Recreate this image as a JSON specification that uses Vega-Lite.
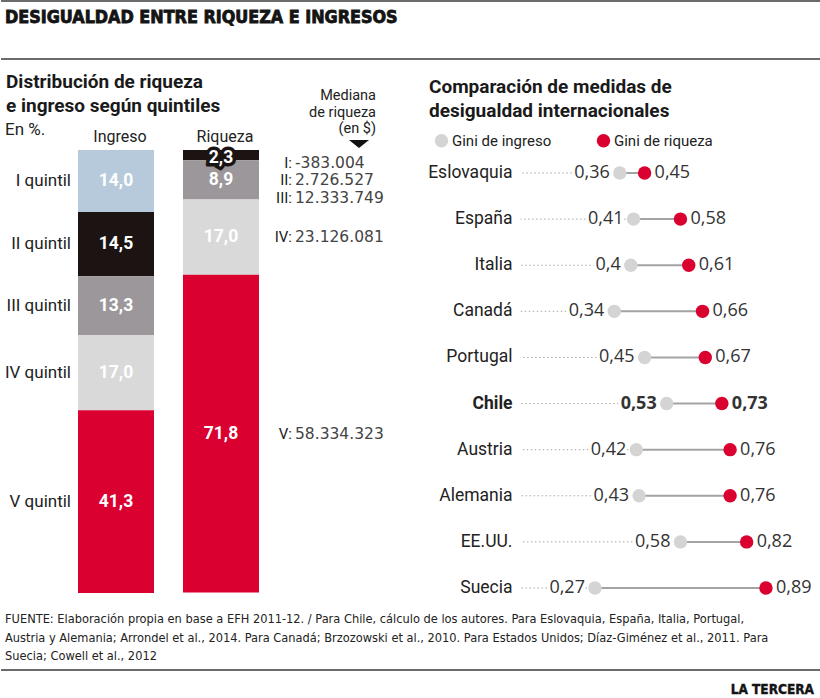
{
  "$schema": "https://vega.github.io/schema/vega-lite/v6.json",
  "width": 820,
  "height": 698,
  "autosize": {"type": "fit", "contains": "padding"},
  "padding": 0,
  "background": "white",
  "config": {
    "view": {"stroke": null},
    "locale": {"number": {"decimal": ",", "thousands": ".", "grouping": [3], "currency": ["$", ""], "minus": "-"}},
    "text": {"font": "Roboto"}
  },
  "datasets": {
    "one": [{}],
    "quint": [
      {"tipo": "Ingreso", "q": "I", "v": 14.0},
      {"tipo": "Ingreso", "q": "II", "v": 14.5},
      {"tipo": "Ingreso", "q": "III", "v": 13.3},
      {"tipo": "Ingreso", "q": "IV", "v": 17.0},
      {"tipo": "Ingreso", "q": "V", "v": 41.3},
      {"tipo": "Riqueza", "q": "I", "v": 0, "med": -383004},
      {"tipo": "Riqueza", "q": "II", "v": 2.3, "med": 2726527},
      {"tipo": "Riqueza", "q": "III", "v": 8.9, "med": 12333749},
      {"tipo": "Riqueza", "q": "IV", "v": 17.0, "med": 23126081},
      {"tipo": "Riqueza", "q": "V", "v": 71.8, "med": 58334323}
    ],
    "gini": [
      {"pais": "Eslovaquia", "ingreso": 0.36, "riqueza": 0.45},
      {"pais": "España", "ingreso": 0.41, "riqueza": 0.58},
      {"pais": "Italia", "ingreso": 0.40, "riqueza": 0.61},
      {"pais": "Canadá", "ingreso": 0.34, "riqueza": 0.66},
      {"pais": "Portugal", "ingreso": 0.45, "riqueza": 0.67},
      {"pais": "Chile", "ingreso": 0.53, "riqueza": 0.73},
      {"pais": "Austria", "ingreso": 0.42, "riqueza": 0.76},
      {"pais": "Alemania", "ingreso": 0.43, "riqueza": 0.76},
      {"pais": "EE.UU.", "ingreso": 0.58, "riqueza": 0.82},
      {"pais": "Suecia", "ingreso": 0.27, "riqueza": 0.89}
    ]
  },
  "layer": [
    {
      "data": {"name": "one"},
      "layer": [
        {"mark": {"type": "rule", "stroke": "#6b6b6b", "strokeWidth": 2}, "encoding": {"x": {"value": 0}, "x2": {"value": 820}, "y": {"value": 1}}},
        {"mark": {"type": "rule", "stroke": "#6b6b6b", "strokeWidth": 2}, "encoding": {"x": {"value": 0}, "x2": {"value": 820}, "y": {"value": 59}}},
        {"mark": {"type": "rule", "stroke": "#6b6b6b", "strokeWidth": 2}, "encoding": {"x": {"value": 0}, "x2": {"value": 820}, "y": {"value": 670}}},
        {"mark": {"type": "text", "text": "DESIGUALDAD ENTRE RIQUEZA E INGRESOS", "font": "'DejaVu Sans Condensed', 'Roboto'", "fontWeight": "bold", "fontSize": 17.8, "align": "left", "baseline": "alphabetic", "fill": "#141414", "stroke": "#141414", "strokeWidth": 0.8},
         "encoding": {"x": {"value": 4}, "y": {"value": 23}}},
        {"mark": {"type": "text", "text": ["Distribución de riqueza", "e ingreso según quintiles"], "font": "Roboto", "fontWeight": "bold", "fontSize": 19, "lineHeight": 24, "align": "left", "baseline": "alphabetic", "fill": "#1a1a1a"},
         "encoding": {"x": {"value": 5}, "y": {"value": 88}}},
        {"mark": {"type": "text", "text": ["Comparación de medidas de", "desigualdad internacionales"], "font": "Roboto", "fontWeight": "bold", "fontSize": 19, "lineHeight": 24, "align": "left", "baseline": "alphabetic", "fill": "#1a1a1a"},
         "encoding": {"x": {"value": 428}, "y": {"value": 93}}},
        {"mark": {"type": "text", "text": "En %.", "font": "Roboto", "fontSize": 17, "align": "left", "baseline": "alphabetic", "fill": "#222"},
         "encoding": {"x": {"value": 4}, "y": {"value": 135}}},
        {"mark": {"type": "text", "text": ["Mediana", "de riqueza", "(en $)"], "font": "Roboto", "fontSize": 14.5, "lineHeight": 16.5, "align": "right", "baseline": "alphabetic", "fill": "#222"},
         "encoding": {"x": {"value": 375}, "y": {"value": 100}}},
        {"mark": {"type": "point", "shape": "M-1,-0.4L1,-0.4L0,0.4Z", "size": 400, "filled": true, "fill": "#111", "opacity": 1, "strokeWidth": 0},
         "encoding": {"x": {"value": 358}, "y": {"value": 144}}},
        {"mark": {"type": "text", "text": ["FUENTE: Elaboración propia en base a EFH 2011-12. / Para Chile, cálculo de los autores. Para Eslovaquia, España, Italia, Portugal,", "Austria y Alemania; Arrondel et al., 2014. Para Canadá; Brzozowski et al., 2010. Para Estados Unidos; Díaz-Giménez et al., 2011. Para", "Suecia; Cowell et al., 2012"], "font": "'DejaVu Sans Condensed', 'Roboto'", "fontSize": 12.7, "lineHeight": 18.5, "align": "left", "baseline": "alphabetic", "fill": "#222"},
         "encoding": {"x": {"value": 4}, "y": {"value": 623}}},
        {"mark": {"type": "text", "text": "LA TERCERA", "font": "'DejaVu Sans Condensed', 'Roboto'", "fontWeight": "bold", "fontSize": 13.5, "align": "right", "baseline": "alphabetic", "fill": "#141414", "stroke": "#141414", "strokeWidth": 0.4},
         "encoding": {"x": {"value": 813}, "y": {"value": 694}}}
      ]
    },
    {
      "data": {"name": "quint"},
      "encoding": {
        "x": {"field": "tipo", "type": "nominal", "scale": {"domain": ["Ingreso", "Riqueza"], "range": [77, 258], "paddingInner": 0.276, "paddingOuter": 0}, "axis": null},
        "order": {"field": "q", "type": "ordinal", "sort": "ascending"}
      },
      "layer": [
        {"mark": {"type": "bar"},
         "encoding": {
           "y": {"field": "v", "type": "quantitative", "stack": "zero", "scale": {"domain": [0, 100.1], "range": [150, 593], "nice": false, "zero": true}, "axis": null},
           "color": {"field": "q", "type": "nominal", "scale": {"domain": ["I", "II", "III", "IV", "V"], "range": ["#b6cadb", "#1c1412", "#9b979a", "#d9d9d9", "#da0030"]}, "legend": null}
         }},
        {"mark": {"type": "text", "font": "Roboto", "fontWeight": "bold", "fontSize": 17.5, "baseline": "middle", "dy": 3, "fill": "#1c1412", "stroke": "#1c1412", "strokeWidth": 7, "strokeJoin": "miter"},
         "encoding": {
           "y": {"field": "v", "type": "quantitative", "stack": "zero", "bandPosition": 0.5, "scale": {"domain": [0, 100.1], "range": [150, 593], "nice": false, "zero": true}, "axis": null},
           "detail": {"field": "q"},
           "text": {"condition": {"test": "datum.tipo === 'Riqueza' && datum.q === 'II'", "field": "v", "type": "quantitative", "format": ".1f"}, "value": ""}
         }},
        {"transform": [{"filter": "datum.v > 0"}],
         "mark": {"type": "text", "font": "Roboto", "fontWeight": "bold", "fontSize": 17.5, "baseline": "middle", "fill": "white", "dy": {"expr": "datum.tipo === 'Riqueza' && datum.q === 'II' ? 3 : 0"}},
         "encoding": {
           "y": {"field": "v", "type": "quantitative", "stack": "zero", "bandPosition": 0.5, "scale": {"domain": [0, 100.1], "range": [150, 593], "nice": false, "zero": true}, "axis": null},
           "detail": {"field": "q"},
           "text": {"field": "v", "type": "quantitative", "format": ".1f"}
         }},
        {"transform": [{"filter": "datum.tipo === 'Ingreso'"}],
         "mark": {"type": "text", "font": "Roboto", "fontSize": 17, "baseline": "middle", "align": "right", "dx": -45, "fill": "#222", "text": {"expr": "datum.q + ' quintil'"}},
         "encoding": {
           "y": {"field": "v", "type": "quantitative", "stack": "zero", "bandPosition": 0.5, "scale": {"domain": [0, 100.1], "range": [150, 593], "nice": false, "zero": true}, "axis": null},
           "detail": {"field": "q"}
         }},
        {"transform": [{"filter": "datum.q === 'I'"}],
         "mark": {"type": "text", "font": "Roboto", "fontSize": 16, "baseline": "middle", "dx": 4, "fill": "#222"},
         "encoding": {
           "y": {"value": 137},
           "text": {"field": "tipo"}
         }},
        {"transform": [{"filter": "datum.tipo === 'Riqueza'"}],
         "mark": {"type": "text", "font": "Roboto", "fontSize": 15, "baseline": "middle", "align": "right", "dx": 71, "fill": "#1a1a1a", "text": {"expr": "datum.q + ':'"}, "dy": {"expr": "datum.q === 'I' ? 13 : datum.q === 'II' ? 25 : datum.q === 'III' ? 18 : 0"}},
         "encoding": {
           "y": {"field": "v", "type": "quantitative", "stack": "zero", "bandPosition": 0.5, "scale": {"domain": [0, 100.1], "range": [150, 593], "nice": false, "zero": true}, "axis": null},
           "detail": {"field": "q"}
         }},
        {"transform": [{"filter": "datum.tipo === 'Riqueza'"}],
         "mark": {"type": "text", "font": "DejaVu Sans", "fontSize": 15.5, "baseline": "middle", "align": "left", "dx": 74, "fill": "#444", "dy": {"expr": "datum.q === 'I' ? 13 : datum.q === 'II' ? 25 : datum.q === 'III' ? 18 : 0"}},
         "encoding": {
           "y": {"field": "v", "type": "quantitative", "stack": "zero", "bandPosition": 0.5, "scale": {"domain": [0, 100.1], "range": [150, 593], "nice": false, "zero": true}, "axis": null},
           "detail": {"field": "q"},
           "text": {"field": "med", "type": "quantitative", "format": ",d"}
         }}
      ]
    },
    {
      "data": {"name": "gini"},
      "encoding": {
        "y": {"field": "pais", "type": "nominal", "scale": {"type": "point", "domain": ["Eslovaquia", "España", "Italia", "Canadá", "Portugal", "Chile", "Austria", "Alemania", "EE.UU.", "Suecia"], "range": [173, 588], "padding": 0}, "axis": null}
      },
      "layer": [
        {"mark": {"type": "rule", "stroke": "#a8a8a8", "strokeWidth": 1, "strokeDash": [1.5, 2.5]},
         "encoding": {
           "x": {"field": "ingreso", "type": "quantitative", "scale": {"domain": [0, 1], "range": [519.5, 795.3], "nice": false, "zero": true}, "axis": null},
           "x2": {"datum": 0}
         }},
        {"mark": {"type": "rule", "stroke": "#a3a3a3", "strokeWidth": 2},
         "encoding": {
           "x": {"field": "ingreso", "type": "quantitative", "scale": {"domain": [0, 1], "range": [519.5, 795.3], "nice": false, "zero": true}, "axis": null},
           "x2": {"field": "riqueza"}
         }},
        {"mark": {"type": "text", "font": "Roboto", "fontSize": 17.5, "baseline": "middle", "align": "right", "dx": -8, "fill": "#222", "fontWeight": {"expr": "datum.pais === 'Chile' ? 'bold' : 'normal'"}},
         "encoding": {
           "x": {"datum": 0, "type": "quantitative", "scale": {"domain": [0, 1], "range": [519.5, 795.3], "nice": false, "zero": true}, "axis": null},
           "text": {"field": "pais"}
         }},
        {"mark": {"type": "text", "font": "Open Sans", "fontSize": 18, "baseline": "middle", "align": "right", "dx": -10, "fill": "white", "stroke": "white", "strokeWidth": 6, "strokeJoin": "round", "fontWeight": {"expr": "datum.pais === 'Chile' ? 'bold' : 'normal'"}},
         "encoding": {
           "x": {"field": "ingreso", "type": "quantitative", "scale": {"domain": [0, 1], "range": [519.5, 795.3], "nice": false, "zero": true}, "axis": null},
           "text": {"field": "ingreso", "type": "quantitative", "format": ".2~f"}
         }},
        {"mark": {"type": "text", "font": "Open Sans", "fontSize": 18, "baseline": "middle", "align": "right", "dx": -10, "fill": "#333", "fontWeight": {"expr": "datum.pais === 'Chile' ? 'bold' : 'normal'"}},
         "encoding": {
           "x": {"field": "ingreso", "type": "quantitative", "scale": {"domain": [0, 1], "range": [519.5, 795.3], "nice": false, "zero": true}, "axis": null},
           "text": {"field": "ingreso", "type": "quantitative", "format": ".2~f"}
         }},
        {"transform": [{"fold": ["ingreso", "riqueza"], "as": ["medida", "valor"]}],
         "mark": {"type": "point", "filled": true, "size": 180, "opacity": 1, "strokeWidth": 0},
         "encoding": {
           "x": {"field": "valor", "type": "quantitative", "scale": {"domain": [0, 1], "range": [519.5, 795.3], "nice": false, "zero": true}, "axis": null},
           "color": {"field": "medida", "type": "nominal", "scale": {"domain": ["ingreso", "riqueza"], "range": ["#d4d4d4", "#da0030"]},
             "legend": {"orient": "none", "legendX": 433, "legendY": 133, "direction": "horizontal", "title": null, "labelExpr": "datum.label === 'ingreso' ? 'Gini de ingreso' : 'Gini de riqueza'", "symbolSize": 180, "symbolType": "circle", "symbolStrokeWidth": 0, "labelFont": "Roboto", "labelFontSize": 15, "labelColor": "#222", "labelOffset": 3, "columnPadding": 44, "padding": 0}}
         }},
        {"mark": {"type": "text", "font": "Open Sans", "fontSize": 18, "baseline": "middle", "align": "left", "dx": 10, "fill": "#333", "fontWeight": {"expr": "datum.pais === 'Chile' ? 'bold' : 'normal'"}},
         "encoding": {
           "x": {"field": "riqueza", "type": "quantitative", "scale": {"domain": [0, 1], "range": [519.5, 795.3], "nice": false, "zero": true}, "axis": null},
           "text": {"field": "riqueza", "type": "quantitative", "format": ".2~f"}
         }}
      ]
    }
  ],
  "resolve": {"scale": {"x": "independent", "y": "independent", "color": "independent"}}
}
